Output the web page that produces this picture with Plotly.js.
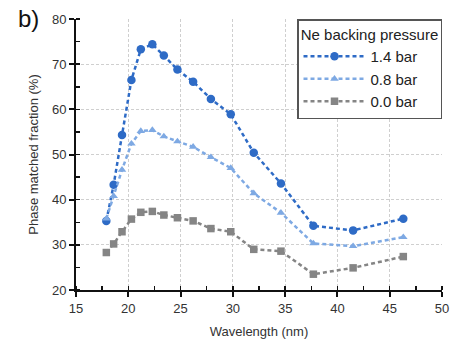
<!DOCTYPE html>
<html><head><meta charset="utf-8">
<script src="https://cdn.plot.ly/plotly-3.0.1.min.js"></script>
<style>html,body{margin:0;padding:0;background:#fff}#c{width:465px;height:349px}</style>
</head><body><div id="c"></div>
<script>
const wavelength = [17.9, 18.6, 19.4, 20.3, 21.2, 22.3, 23.4, 24.7, 26.2, 27.9, 29.8, 32.0, 34.6, 37.7, 41.5, 46.3];
const bar14 = [35.3, 43.3, 54.3, 66.5, 73.3, 74.4, 71.9, 68.8, 66.1, 62.3, 58.9, 50.4, 43.6, 34.2, 33.2, 35.8];
const bar08 = [35.8, 40.8, 46.6, 52.4, 55.2, 55.4, 54.0, 52.9, 51.7, 49.4, 47.0, 41.4, 37.1, 30.3, 29.7, 31.7];
const bar00 = [28.3, 30.2, 32.9, 35.7, 37.2, 37.4, 36.6, 36.0, 35.3, 33.6, 32.9, 29.0, 28.6, 23.5, 24.9, 27.4];
const seriesNames = ['1.4 bar', '0.8 bar', '0.0 bar'];
const xTicks = [15, 20, 25, 30, 35, 40, 45, 50];
const yTicks = [20, 30, 40, 50, 60, 70, 80];

const colors = ['#2e6bc6', '#7ea9e3', '#858585'];
const symbols = ['circle', 'triangle-up', 'square'];
const data = [bar14, bar08, bar00].map((ys, i) => ({
  x: wavelength, y: ys, name: seriesNames[i], type: 'scatter', mode: 'lines+markers',
  line: {color: colors[i], width: 2.5, dash: '4px,3px'},
  marker: {color: colors[i], symbol: symbols[i], size: i === 0 ? 8.5 : 7.5}
}));

const fam = 'Liberation Sans, Arial, sans-serif';
const layout = {
  width: 465, height: 349,
  margin: {l: 75.5, r: 22.5, t: 19.3, b: 59},
  paper_bgcolor: '#fff', plot_bgcolor: '#fff',
  font: {size: 13, family: fam, color: '#222'},
  showlegend: true,
  legend: {
    x: 1, xanchor: 'right', y: 1, yanchor: 'top',
    bordercolor: '#555', borderwidth: 1.5, bgcolor: '#fff',
    title: {text: 'Ne backing pressure', side: 'top center', font: {size: 15, family: fam, color: '#222'}},
    font: {size: 15, family: fam, color: '#222'},
    itemwidth: 62, tracegroupgap: 0
  },
  xaxis: {
    range: [15, 50], tickvals: xTicks, ticktext: xTicks.map(String),
    showline: true, linecolor: '#111', linewidth: 2,
    ticks: 'outside', ticklen: 5, tickwidth: 2, tickcolor: '#111',
    minor: {dtick: 2.5, ticks: 'inside', ticklen: 4, tickwidth: 1.5, tickcolor: '#111', showgrid: false},
    showgrid: true, gridcolor: '#cfcfcf', griddash: '3px,2px', gridwidth: 1.2,
    zeroline: false,
    tickfont: {size: 13, family: fam, color: '#333'},
    title: {text: 'Wavelength (nm)', font: {size: 13, family: fam, color: '#333'}, standoff: 12}
  },
  yaxis: {
    range: [20, 80], tickvals: yTicks, ticktext: yTicks.map(String),
    showline: true, linecolor: '#111', linewidth: 2,
    ticks: 'outside', ticklen: 5, tickwidth: 2, tickcolor: '#111',
    minor: {dtick: 5, ticks: 'inside', ticklen: 4, tickwidth: 1.5, tickcolor: '#111', showgrid: false},
    showgrid: true, gridcolor: '#cfcfcf', griddash: '3px,2px', gridwidth: 1.2,
    zeroline: false,
    tickfont: {size: 13, family: fam, color: '#333'},
    title: {text: 'Phase matched fraction (%)', font: {size: 13, family: fam, color: '#333'}, standoff: 10}
  },
  annotations: [{
    text: 'b)', xref: 'paper', yref: 'paper', x: -0.095, y: 1.058, xanchor: 'right', yanchor: 'top',
    showarrow: false, font: {size: 24, family: fam, color: '#111'}
  }]
};
Plotly.newPlot('c', data, layout, {displayModeBar: false, staticPlot: true});
</script></body></html>
